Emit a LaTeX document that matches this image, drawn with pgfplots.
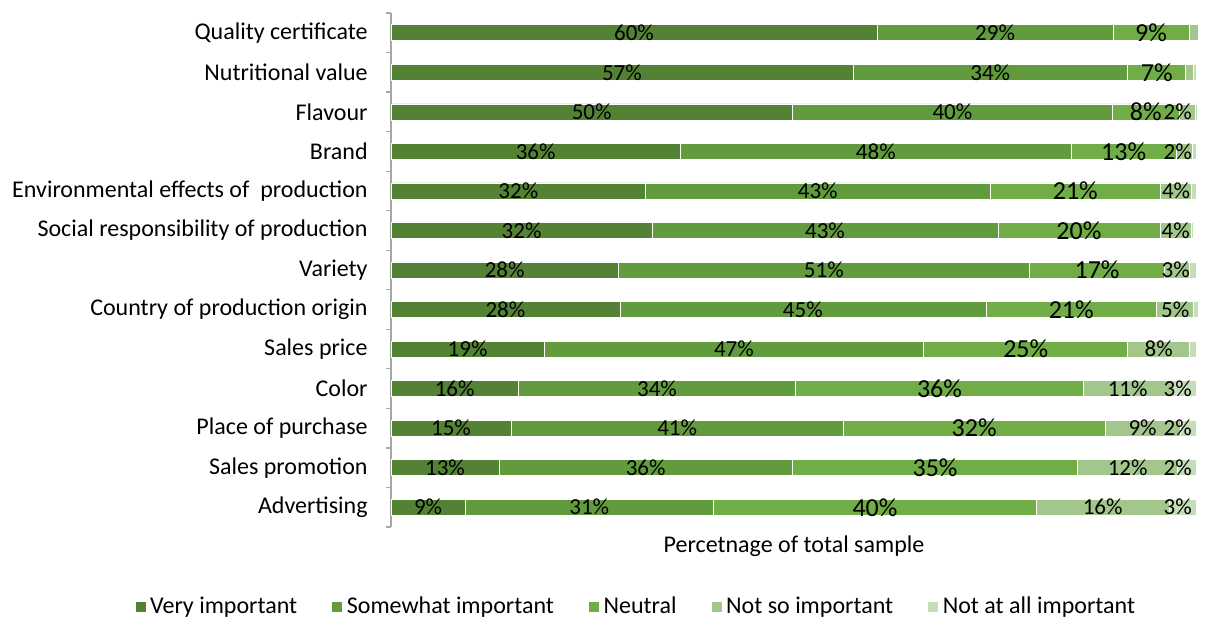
\documentclass[border=0pt]{standalone}
\usepackage{pgfplots}
\pgfplotsset{compat=1.18}
\usepackage{pgfplotstable}
\usepackage{fontspec}
\setmainfont{Carlito}
\definecolor{c1}{HTML}{548235}
\definecolor{c2}{HTML}{629A3E}
\definecolor{c3}{HTML}{70AD47}
\definecolor{c4}{HTML}{A2C68C}
\definecolor{c5}{HTML}{C5DDB8}

\pgfplotstableread{
idx a b c d e sd se la lb lc ld le
0 9.2 30.8 40.1 16.4 3.4 0 -0.6 9\% 31\% 40\% 16\% 3\%
1 13.4 36.4 35.4 12.4 2.3 0 -1.15 13\% 36\% 35\% 12\% 2\%
2 14.9 41.2 32.5 9.3 2.0 0 -1.3 15\% 41\% 32\% 9\% 2\%
3 15.8 34.4 35.7 11.0 3.0 0 -0.8 16\% 34\% 36\% 11\% 3\%
4 19.0 47.1 25.3 7.7 0.8 0 0 19\% 47\% 25\% 8\% {}
5 28.4 45.4 21.2 4.6 0.6 0 0 28\% 45\% 21\% 5\% {}
6 28.2 51.0 16.8 3.1 0.8 -0.2 0 28\% 51\% 17\% 3\% {}
7 32.4 42.9 20.1 3.9 0.3 0 0 32\% 43\% 20\% 4\% {}
8 31.6 42.7 21.2 3.8 0.6 0 0 32\% 43\% 21\% 4\% {}
9 35.9 48.5 13.0 2.0 0.5 -0.8 0 36\% 48\% 13\% 2\% {}
10 49.8 39.7 8.3 2.0 0.2 -1.2 0 50\% 40\% 8\% 2\% {}
11 57.3 34.1 7.2 0.9 0.4 0 0 57\% 34\% 7\% {} {}
12 60.3 29.3 9.4 1.1 0.0 0 0 60\% 29\% 9\% {} {}
}\data

\newcommand{\lblfont}{\fontsize{11.5}{13}\selectfont}
\newcommand{\bigfont}{\fontsize{13}{15}\selectfont}
\newcommand{\txtfont}{\fontsize{12}{14}\selectfont}

\begin{document}
\begin{tikzpicture}
\begin{axis}[
  xbar stacked,
  scale only axis,
  width=403pt, height=257pt,
  bar width=8pt,
  xmin=0, xmax=100,
  ymin=-0.5, ymax=12.5,
  clip=false,
  axis lines*=left,
  x axis line style={draw=none},
  y axis line style={draw=gray!70, line width=0.6pt},
  xtick=\empty,
  ytick={0,...,12},
  yticklabels={Advertising, Sales promotion, Place of purchase, Color, Sales price, Country of production origin, Variety, Social responsibility of production, Environmental effects of\ \ production, Brand, Flavour, Nutritional value, Quality certificate},
  minor ytick={-0.5,0.5,...,12.5},
  major tick length=0pt,
  minor tick length=2.5pt,
  tick align=outside,
  minor tick style={draw=gray!70, line width=0.6pt},
  yticklabel style={font=\txtfont, anchor=east, inner sep=0pt, xshift=-11.5pt},
  xlabel={Percetnage of total sample},
  xlabel style={at={(rel axis cs:0.5,0)}, anchor=north, yshift=-1pt, font=\txtfont},
  legend style={at={(rel axis cs:0.305,-0.1556)}, anchor=center, draw=none, font=\txtfont,
    legend columns=5, /tikz/every even column/.append style={column sep=15pt}},
  legend cell align=left,
  legend image code/.code={\fill[#1] (0pt,-2.75pt) rectangle (5.5pt,2.75pt);},
  nodes near coords,
  point meta=explicit symbolic,
]
\addplot[fill=c1, draw=white, line width=0.3pt,
  every node near coord/.append style={anchor=center, font=\lblfont, text=black}
] table[x=a, y=idx, meta=la] {\data};
\addplot[fill=c2, draw=white, line width=0.3pt,
  every node near coord/.append style={anchor=center, font=\lblfont, text=black}
] table[x=b, y=idx, meta=lb] {\data};
\addplot[fill=c3, draw=white, line width=0.3pt,
  every node near coord/.append style={anchor=center, font=\bigfont, text=black}
] table[x=c, y=idx, meta=lc] {\data};
\addplot[fill=c4, draw=white, line width=0.3pt,
  visualization depends on={\thisrow{sd} \as \sh},
  every node near coord/.append style={anchor=center, shift={(axis direction cs:\sh,0)}, font=\lblfont, text=black}
] table[x=d, y=idx, meta=ld] {\data};
\addplot[fill=c5, draw=white, line width=0.3pt,
  visualization depends on={\thisrow{se} \as \sh},
  every node near coord/.append style={anchor=center, shift={(axis direction cs:\sh,0)}, font=\lblfont, text=black}
] table[x=e, y=idx, meta=le] {\data};
\legend{Very important, Somewhat important, Neutral, Not so important, Not at all important}
\path (rel axis cs:-0.4851,-0.1829) rectangle (rel axis cs:1.0099,1.0253);
\end{axis}
\end{tikzpicture}
\end{document}
